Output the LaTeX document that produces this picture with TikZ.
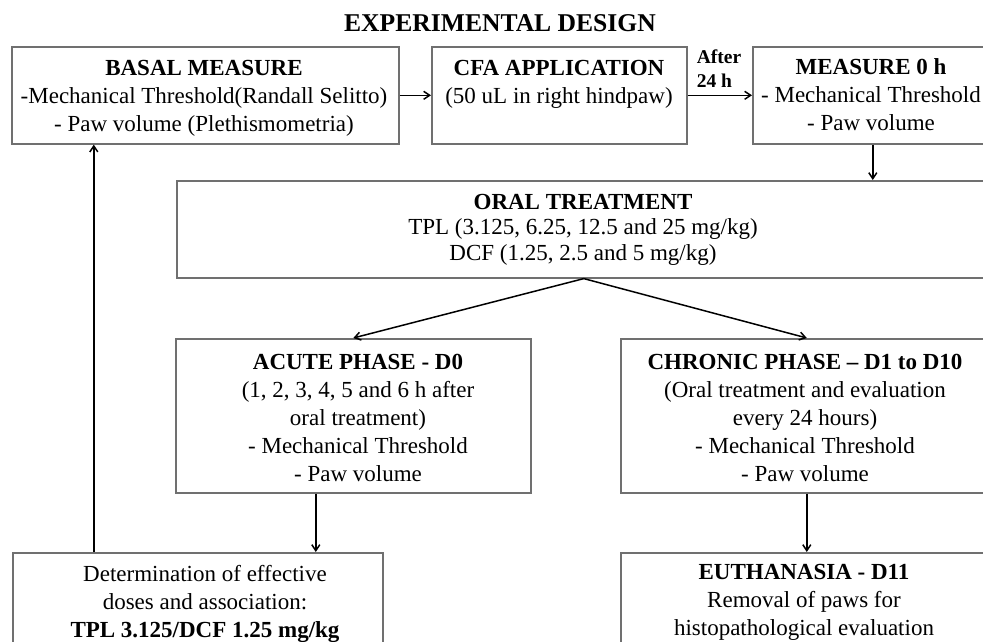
\documentclass[tikz,border=0pt]{standalone}
\usepackage{fontspec}
\setmainfont{Liberation Serif}
\usetikzlibrary{arrows.meta,calc}
\definecolor{boxgray}{RGB}{112,112,112}
\begin{document}
\begin{tikzpicture}[x=1pt,y=-1pt,
  box/.style={draw=boxgray, line width=1.6pt, rectangle, anchor=north west, inner sep=0pt},
  txt/.style={align=center, inner sep=0pt, font=\fontsize{23}{28}\selectfont},
  arr/.style={draw=black, line width=1.5pt, -{Straight Barb[length=6pt,width=8pt]}}]
\path[use as bounding box, clip] (0,0) rectangle (983,642);
\fill[white] (0,0) rectangle (983,642);

% title
\node[inner sep=0pt, font=\bfseries\fontsize{25.6}{30}\selectfont] (title) at (500,23) {EXPERIMENTAL DESIGN};

% boxes
\node[box, minimum width=387pt, minimum height=97pt] (basal) at (11,46) {};
\node[box, minimum width=255pt, minimum height=97pt] (cfa) at (431,46) {};
\node[box, minimum width=240pt, minimum height=97pt] (measure) at (752,46) {};
\node[box, minimum width=814pt, minimum height=97pt] (oral) at (176,180) {};
\node[box, minimum width=355pt, minimum height=154pt] (acute) at (175,338) {};
\node[box, minimum width=372pt, minimum height=154pt] (chronic) at (620,338) {};
\node[box, minimum width=370pt, minimum height=110pt] (det) at (12,552) {};
\node[box, minimum width=372pt, minimum height=110pt] (euth) at (620,552) {};

% texts
\node[txt] (basalt) at (204,98.5) {\textbf{BASAL MEASURE}\\-Mechanical Threshold(Randall Selitto)\\- Paw volume (Plethismometria)};
\node[txt] (cfat) at (559,84.5) {\textbf{CFA APPLICATION}\\(50 uL in right hindpaw)};
\node[inner sep=0pt, align=left, font=\bfseries\fontsize{19.5}{24}\selectfont] (after) at (719,69) {After\\24 h};
\node[txt] (measuret) at (871,95) {\textbf{MEASURE 0 h}\\- Mechanical Threshold\\- Paw volume};
\node[txt, font=\fontsize{23}{25.5}\selectfont] (oralt) at (583,229.5) {\textbf{ORAL TREATMENT}\\TPL (3.125, 6.25, 12.5 and 25 mg/kg)\\DCF (1.25, 2.5 and 5 mg/kg)};
\node[txt] (acutet) at (358,418) {\textbf{ACUTE PHASE - D0}\\(1, 2, 3, 4, 5 and 6 h after\\oral treatment)\\- Mechanical Threshold\\- Paw volume};
\node[txt] (chronict) at (805,418) {\textbf{CHRONIC PHASE – D1 to D10}\\(Oral treatment and evaluation\\every 24 hours)\\- Mechanical Threshold\\- Paw volume};
\node[txt] (dett) at (205,603.5) {Determination of effective\\doses and association:\\\textbf{TPL 3.125/DCF 1.25 mg/kg}};
\node[txt] (eutht) at (804,602) {\textbf{EUTHANASIA - D11}\\Removal of paws for\\histopathological evaluation};

% connectors
\draw[arr] (basal.east) -- (cfa.west);
\draw[arr] (cfa.east) -- (measure.west);
\draw[arr] (measure.south) -- (measure.south |- oral.north);
\draw[arr] (oral.south) -- (acute.north);
\draw[arr] (oral.south) -- (chronic.north);
\draw[arr] ([xshift=-37.5pt]acute.south) -- ([xshift=-37.5pt]acute.south |- det.north);
\draw[arr] (chronic.south) -- (euth.north);
\draw[arr] ([xshift=-104pt]det.north) -- ([xshift=-104pt]det.north |- basal.south);
\end{tikzpicture}
\end{document}
